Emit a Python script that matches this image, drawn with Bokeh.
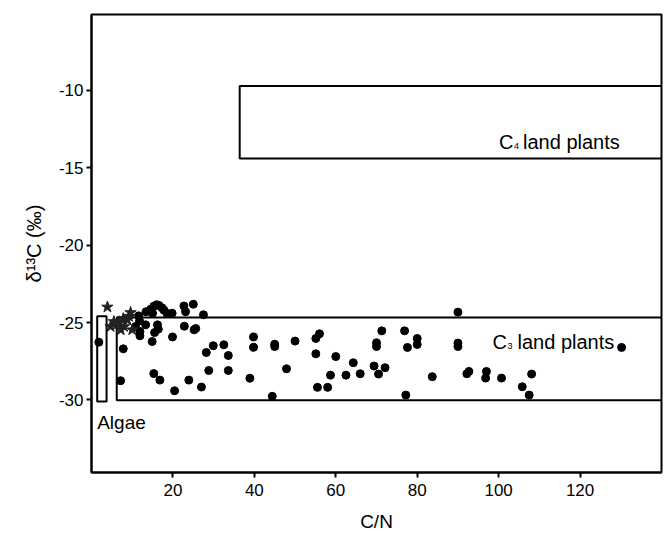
from bokeh.plotting import figure
from bokeh.models import FixedTicker, Range1d
from bokeh.core.properties import value
from bokeh.embed import file_html
from bokeh.resources import INLINE

# ---- data ----
circ_x = [13.4, 14.5, 15.3, 16.0, 16.6, 17.3, 17.8, 15.0, 18.5, 19.8, 22.7, 23.1, 25.0, 27.5, 11.6,
          11.8, 10.8, 13.3, 16.2, 16.4, 15.5, 11.9, 11.9, 14.9, 19.9, 22.8, 25.2, 25.6,
          1.8, 7.8, 7.15, 15.3, 16.8, 20.4, 23.9, 27.0, 28.2, 29.9, 32.5, 33.6, 28.8, 33.6,
          38.9, 39.8, 39.8, 44.4, 45.0, 45.0, 47.9, 50.0, 55.1, 56.0, 55.1, 55.5, 58.0, 58.7,
          60.0, 62.5, 64.3, 66.0, 69.4, 70.0, 70.0, 71.3, 70.5, 72.1, 76.9, 77.6, 77.2, 80.0,
          80.0, 83.7, 90.0, 90.0, 90.0, 92.2, 92.7, 97.0, 96.8, 100.7, 108.1, 105.8, 107.5, 130.2]
circ_y = [-24.3, -24.15, -23.95, -23.85, -23.9, -24.05, -24.2, -24.4, -24.4, -24.4, -23.93, -24.3, -23.82, -24.5, -24.57,
          -24.9, -25.26, -25.15, -25.15, -25.43, -25.65, -25.58, -25.86, -26.23, -25.93, -25.24, -25.47, -25.39,
          -26.27, -26.7, -28.76, -28.3, -28.72, -29.41, -28.72, -29.17, -26.94, -26.5, -26.44, -27.13, -28.1, -28.1,
          -28.6, -25.93, -26.6, -29.77, -26.4, -26.55, -27.99, -26.2, -26.03, -25.73, -27.02, -29.19, -29.19, -28.4,
          -27.2, -28.4, -27.6, -28.31, -27.81, -26.31, -26.55, -25.54, -28.33, -27.92, -25.54, -26.61, -29.69, -26.03,
          -26.42, -28.5, -24.33, -26.33, -26.55, -28.31, -28.16, -28.16, -28.59, -28.59, -28.33, -29.15, -29.69, -26.61]

star_x = [3.9, 4.7, 5.5, 6.3, 7.2, 8.0, 8.8, 9.6, 9.2, 10.0, 6.8, 7.8]
star_y = [-24.0, -25.26, -24.94, -25.1, -25.47, -25.26, -24.83, -24.36, -24.6, -25.47, -24.95, -24.75]

# source boxes: left, right, bottom, top
box_names = ["C4 land plants", "C3 land plants", "Algae"]
box_left = [36.4, 6.2, 1.4]
box_right = [150.0, 150.0, 3.7]
box_bottom = [-14.4, -30.03, -30.1]
box_top = [-9.72, -24.68, -24.6]

x_ticks = [20, 40, 60, 80, 100, 120]
y_ticks = [-30, -25, -20, -15, -10]

FONT = "Liberation Sans"

p = figure(width=667, height=534, output_backend="svg", toolbar_location=None,
           x_range=Range1d(0, 140), y_range=Range1d(-34.69, -5.1),
           min_border_left=91, min_border_right=6, min_border_top=14, min_border_bottom=61)

p.xgrid.visible = False
p.ygrid.visible = False
p.outline_line_color = "black"
p.outline_line_width = 2
p.outline_line_alpha = 1.0
p.background_fill_color = "white"
p.border_fill_color = "white"

for ax in (p.xaxis[0], p.yaxis[0]):
    ax.axis_line_width = 2
    ax.axis_line_color = "black"
    ax.major_tick_line_width = 2
    ax.major_tick_line_color = "black"
    ax.major_tick_out = 5
    ax.major_tick_in = 0
    ax.minor_tick_out = 0
    ax.minor_tick_in = 0
    ax.major_label_text_font = FONT
    ax.major_label_text_font_size = "17px"
    ax.major_label_text_color = "black"
    ax.axis_label_text_font = FONT
    ax.axis_label_text_font_size = "19px"
    ax.axis_label_text_font_style = "normal"
    ax.axis_label_text_color = "black"

p.xaxis.ticker = FixedTicker(ticks=x_ticks)
p.yaxis.ticker = FixedTicker(ticks=y_ticks)
p.yaxis.major_label_overrides = {t: str(t) for t in y_ticks}
p.xaxis.axis_label = "C/N"
p.yaxis.axis_label = "δ¹³C (‰)"
p.yaxis.axis_label_text_font_size = "20px"
p.xaxis.major_label_standoff = 6
p.yaxis.major_label_standoff = 3
p.xaxis.axis_label_standoff = 12
p.yaxis.axis_label_standoff = 11

p.quad(left=box_left, right=box_right, bottom=box_bottom, top=box_top,
       fill_color=None, line_color="black", line_width=2)

p.scatter(circ_x, circ_y, marker="circle", size=8, fill_color="black", line_color="black")
p.scatter(star_x, star_y, marker="star", size=12, fill_color="#222222", line_color="#222222")

lab = dict(text_font=value(FONT), text_color="black", text_baseline="alphabetic", text_align="left")
# C4 label
p.text(x=[100.1], y=[-13.35], text=["C"], text_font_size="20px", **lab)
p.text(x=[100.1], y=[-13.35], text=["4"], text_font_size="9px", x_offset=15, y_offset=4, **lab)
p.text(x=[100.1], y=[-13.35], text=["land plants"], text_font_size="20px", x_offset=24, **lab)
# C3 label
p.text(x=[98.5], y=[-26.23], text=["C"], text_font_size="20px", **lab)
p.text(x=[98.5], y=[-26.23], text=["3"], text_font_size="9px", x_offset=15, y_offset=4, **lab)
p.text(x=[98.5], y=[-26.23], text=["land plants"], text_font_size="20px", x_offset=25, **lab)
# Algae label
p.text(x=[1.4], y=[-31.45], text=["Algae"], text_font_size="19px", **lab)

open("out.html", "w").write(file_html(p, INLINE))
